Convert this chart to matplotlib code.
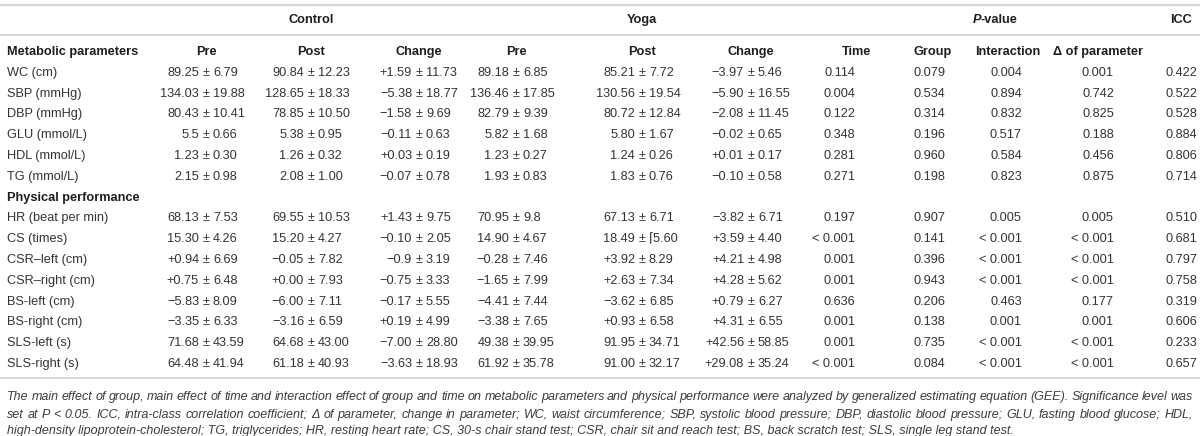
import matplotlib
matplotlib.use('Agg')
import matplotlib.pyplot as plt

plt.rcParams['font.family'] = ['Liberation Sans', 'DejaVu Sans']

# ---------------- data ----------------
group_headers = ["Control", "Yoga"]
sub_headers = ["Pre", "Post", "Change", "Pre", "Post", "Change",
               "Time", "Group", "Interaction", "\u0394 of parameter"]
section_titles = ["Metabolic parameters", "Physical performance"]

metabolic_labels = ["WC (cm)", "SBP (mmHg)", "DBP (mmHg)", "GLU (mmol/L)",
                    "HDL (mmol/L)", "TG (mmol/L)"]
physical_labels = ["HR (beat per min)", "CS (times)", "CSR\u2013left (cm)",
                   "CSR\u2013right (cm)", "BS-left (cm)", "BS-right (cm)",
                   "SLS-left (s)", "SLS-right (s)"]

control_pre = ["89.25 ± 6.79", "134.03 ± 19.88", "80.43 ± 10.41", "5.5 ± 0.66",
               "1.23 ± 0.30", "2.15 ± 0.98",
               "68.13 ± 7.53", "15.30 ± 4.26", "+0.94 ± 6.69", "+0.75 ± 6.48",
               "−5.83 ± 8.09", "−3.35 ± 6.33", "71.68 ± 43.59", "64.48 ± 41.94"]
control_post = ["90.84 ± 12.23", "128.65 ± 18.33", "78.85 ± 10.50", "5.38 ± 0.95",
                "1.26 ± 0.32", "2.08 ± 1.00",
                "69.55 ± 10.53", "15.20 ± 4.27", "−0.05 ± 7.82", "+0.00 ± 7.93",
                "−6.00 ± 7.11", "−3.16 ± 6.59", "64.68 ± 43.00", "61.18 ± 40.93"]
control_change = ["+1.59 ± 11.73", "−5.38 ± 18.77", "−1.58 ± 9.69", "−0.11 ± 0.63",
                  "+0.03 ± 0.19", "−0.07 ± 0.78",
                  "+1.43 ± 9.75", "−0.10 ± 2.05", "−0.9 ± 3.19", "−0.75 ± 3.33",
                  "−0.17 ± 5.55", "+0.19 ± 4.99", "−7.00 ± 28.80", "−3.63 ± 18.93"]
yoga_pre = ["89.18 ± 6.85", "136.46 ± 17.85", "82.79 ± 9.39", "5.82 ± 1.68",
            "1.23 ± 0.27", "1.93 ± 0.83",
            "70.95 ± 9.8", "14.90 ± 4.67", "−0.28 ± 7.46", "−1.65 ± 7.99",
            "−4.41 ± 7.44", "−3.38 ± 7.65", "49.38 ± 39.95", "61.92 ± 35.78"]
yoga_post = ["85.21 ± 7.72", "130.56 ± 19.54", "80.72 ± 12.84", "5.80 ± 1.67",
             "1.24 ± 0.26", "1.83 ± 0.76",
             "67.13 ± 6.71", "18.49 ± \u23085.60", "+3.92 ± 8.29", "+2.63 ± 7.34",
             "−3.62 ± 6.85", "+0.93 ± 6.58", "91.95 ± 34.71", "91.00 ± 32.17"]
yoga_change = ["−3.97 ± 5.46", "−5.90 ± 16.55", "−2.08 ± 11.45", "−0.02 ± 0.65",
               "+0.01 ± 0.17", "−0.10 ± 0.58",
               "−3.82 ± 6.71", "+3.59 ± 4.40", "+4.21 ± 4.98", "+4.28 ± 5.62",
               "+0.79 ± 6.27", "+4.31 ± 6.55", "+42.56 ± 58.85", "+29.08 ± 35.24"]
p_time = ["0.114", "0.004", "0.122", "0.348", "0.281", "0.271",
          "0.197", "< 0.001", "0.001", "0.001", "0.636", "0.001", "0.001", "< 0.001"]
p_group = ["0.079", "0.534", "0.314", "0.196", "0.960", "0.198",
           "0.907", "0.141", "0.396", "0.943", "0.206", "0.138", "0.735", "0.084"]
p_interaction = ["0.004", "0.894", "0.832", "0.517", "0.584", "0.823",
                 "0.005", "< 0.001", "< 0.001", "< 0.001", "0.463", "0.001", "< 0.001", "< 0.001"]
p_delta = ["0.001", "0.742", "0.825", "0.188", "0.456", "0.875",
           "0.005", "< 0.001", "< 0.001", "< 0.001", "0.177", "0.001", "< 0.001", "< 0.001"]
icc = ["0.422", "0.522", "0.528", "0.884", "0.806", "0.714",
       "0.510", "0.681", "0.797", "0.758", "0.319", "0.606", "0.233", "0.657"]

caption_lines = [
    "The main effect of group, main effect of time and interaction effect of group and time on metabolic parameters and physical performance were analyzed by generalized estimating equation (GEE). Significance level was",
    "set at P < 0.05. ICC, intra-class correlation coefficient; \u0394 of parameter, change in parameter; WC, waist circumference; SBP, systolic blood pressure; DBP, diastolic blood pressure; GLU, fasting blood glucose; HDL,",
    "high-density lipoprotein-cholesterol; TG, triglycerides; HR, resting heart rate; CS, 30-s chair stand test; CSR, chair sit and reach test; BS, back scratch test; SLS, single leg stand test.",
]

# ---------------- layout ----------------
W, H = 1200, 436
FS = 9.2
CAP_FS = 9.0
TXT = '#333333'
HDR = '#1e1e1e'
LINE = '#d6d6d6'

x_label = 7
pm_cols = [206, 311, 419, 516, 642, 751]
p_cols = [839, 929, 1006, 1098, 1181]          # value columns (numbers right-aligned)
p_head_x = [857, 933, 1008, 1098]              # sub-header centres
x_control = 311
x_yoga = 642
x_pvalue = 995
x_icc = 1181

y_top_line = 5
y_group = 20
y_mid_line = 35
y_first = 52
row_step = 20.8
y_bottom_line = 378
cap_y = [397, 414.5, 431]
cap_right = 1193

fig = plt.figure(figsize=(W / 100, H / 100), dpi=100)
ax = fig.add_axes([0, 0, 1, 1])
ax.set_xlim(0, W)
ax.set_ylim(H, 0)
ax.axis('off')
renderer = fig.canvas.get_renderer()


def tw(s, **kw):
    t = ax.text(0, 0, s, **kw)
    w = t.get_window_extent(renderer).width
    t.remove()
    return w


# rules
ax.plot([0, W], [y_top_line, y_top_line], color=LINE, lw=1.6, solid_capstyle='butt')
ax.plot([0, W], [y_mid_line, y_mid_line], color=LINE, lw=1.3, solid_capstyle='butt')
ax.plot([0, W], [y_bottom_line, y_bottom_line], color=LINE, lw=1.3, solid_capstyle='butt')

# group header row
bold = dict(fontsize=FS, fontweight='bold', color=HDR, va='center')
ax.text(x_control, y_group, group_headers[0], ha='center', **bold)
ax.text(x_yoga, y_group, group_headers[1], ha='center', **bold)
wP = tw("P", fontsize=FS, fontweight='bold', fontstyle='italic')
wV = tw("-value", fontsize=FS, fontweight='bold')
x0 = x_pvalue - (wP + wV) / 2
ax.text(x0, y_group, "P", ha='left', fontstyle='italic', **bold)
ax.text(x0 + wP, y_group, "-value", ha='left', **bold)
ax.text(x_icc, y_group, "ICC", ha='center', **bold)

# sub header row
ax.text(x_label, y_first, section_titles[0], ha='left', **bold)
for x, s in zip(pm_cols + p_head_x, sub_headers):
    ax.text(x, y_first, s, ha='center', **bold)

# body
reg = dict(fontsize=FS, color=TXT, va='center')
w0 = tw("0", fontsize=FS)
d_pm = (tw("0 ± 0", fontsize=FS) - 2 * w0) / 2
w_num = tw("0.000", fontsize=FS)

rows = [(lab, i) for i, lab in enumerate(metabolic_labels)]
rows.append((None, None))
rows += [(lab, i + len(metabolic_labels)) for i, lab in enumerate(physical_labels)]
pm_data = [control_pre, control_post, control_change, yoga_pre, yoga_post, yoga_change]
p_data = [p_time, p_group, p_interaction, p_delta, icc]

for k, (lab, idx) in enumerate(rows):
    y = y_first + row_step * (k + 1)
    if lab is None:
        ax.text(x_label, y, section_titles[1], ha='left', **bold)
        continue
    ax.text(x_label, y, lab, ha='left', **reg)
    for x, col in zip(pm_cols, pm_data):
        a, b = col[idx].split(" ± ")
        ax.text(x - d_pm, y, a, ha='right', **reg)
        ax.text(x, y, "±", ha='center', **reg)
        ax.text(x + d_pm, y, b, ha='left', **reg)
    for x, col in zip(p_cols, p_data):
        ax.text(x + w_num / 2, y, col[idx], ha='right', **reg)

# caption (justified for the first two lines)
cap = dict(fontsize=CAP_FS, fontstyle='italic', color='#3c3c3c', va='center')
for j, (line, y) in enumerate(zip(caption_lines, cap_y)):
    if j < len(caption_lines) - 1:
        words = line.split(" ")
        widths = [tw(wd, fontsize=CAP_FS, fontstyle='italic') for wd in words]
        gap = (cap_right - x_label - sum(widths)) / (len(words) - 1)
        x = x_label
        for wd, wdw in zip(words, widths):
            ax.text(x, y, wd, ha='left', **cap)
            x += wdw + gap
    else:
        ax.text(x_label, y, line, ha='left', **cap)

fig.savefig("out.png", dpi=100)
